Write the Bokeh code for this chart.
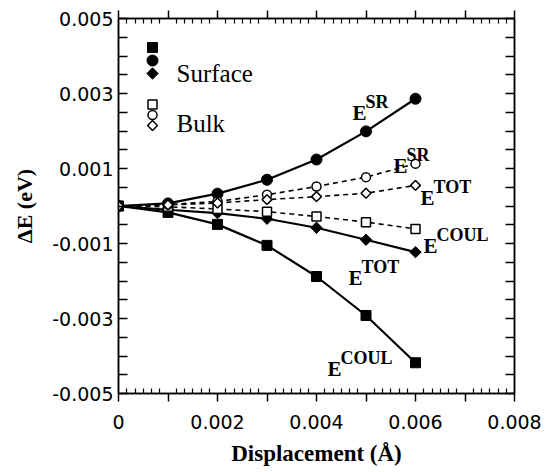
import math
from bokeh.plotting import figure
from bokeh.models import Range1d, LinearAxis, FixedTicker
from bokeh.core.properties import value
from bokeh.embed import file_html
from bokeh.resources import INLINE

# ---------------- data ----------------
disp = [0.0, 0.001, 0.002, 0.003, 0.004, 0.005, 0.006]

surf_coul = [0.0, -0.00017, -0.00049, -0.00105, -0.00188, -0.00292, -0.00418]
surf_sr = [0.0, 0.00007, 0.00033, 0.00070, 0.00124, 0.00199, 0.00286]
surf_tot = [0.0, -0.00010, -0.00019, -0.00034, -0.00058, -0.00090, -0.00123]

bulk_coul = [0.0, -0.00002, -0.00008, -0.00015, -0.00028, -0.00043, -0.00061]
bulk_sr = [0.0, 0.00004, 0.00012, 0.00030, 0.00052, 0.00077, 0.00113]
bulk_tot = [0.0, 0.00003, 0.00008, 0.00017, 0.00025, 0.00034, 0.00055]

x_tick_values = [0.0, 0.001, 0.002, 0.003, 0.004, 0.005, 0.006, 0.007, 0.008]
x_tick_labels = ["0", "", "0.002", "", "0.004", "", "0.006", "", "0.008"]

y_tick_values = [-0.005, -0.003, -0.001, 0.001, 0.003, 0.005]
y_tick_labels = ["-0.005", "-0.003", "-0.001", "0.001", "0.003", "0.005"]

legend_groups = ["Surface", "Bulk"]

# ---------------- figure ----------------
FRAME_W, FRAME_H = 396, 375
p = figure(width=558, height=472, output_backend="svg", toolbar_location=None,
           x_range=Range1d(0, 0.008), y_range=Range1d(-0.005, 0.005),
           min_border_left=118, min_border_right=44, min_border_top=18,
           min_border_bottom=79, x_axis_type=None, y_axis_type=None)
p.grid.visible = False
p.outline_line_color = "black"
p.outline_line_width = 1.5
p.background_fill_color = "white"
p.border_fill_color = "white"

x_minor = [i * 0.001 + j * 0.001 / 6 for i in range(8) for j in range(1, 6)]
y_minor = [-0.005 + k * 0.0005 for k in range(21) if k % 4 != 0]
xticker = FixedTicker(ticks=x_tick_values, minor_ticks=x_minor)
yticker = FixedTicker(ticks=y_tick_values, minor_ticks=y_minor)

TICK_FONT = "DejaVu Sans"
TITLE_FONT = "Liberation Serif"


def hide_labels(ax):
    ax.major_label_text_font_size = "1px"
    ax.major_label_text_color = None
    ax.major_label_standoff = 0


def style_x(ax, labels):
    ax.ticker = xticker
    ax.axis_line_width = 1.5
    ax.axis_line_color = "black"
    ax.major_tick_line_width = 1.5
    ax.major_tick_line_color = "black"
    ax.major_tick_in = 0
    ax.major_tick_out = 8
    ax.minor_tick_line_width = 1.2
    ax.minor_tick_line_color = "black"
    ax.minor_tick_in = 5
    ax.minor_tick_out = 0
    if labels:
        ax.major_label_overrides = dict(zip(x_tick_values, x_tick_labels))
        ax.major_label_text_font = TICK_FONT
        ax.major_label_text_font_size = "19px"
        ax.major_label_text_color = "black"
        ax.major_label_standoff = 13
    else:
        hide_labels(ax)


def style_y(ax, labels):
    ax.ticker = yticker
    ax.axis_line_width = 1.5
    ax.axis_line_color = "black"
    ax.major_tick_line_width = 1.5
    ax.major_tick_line_color = "black"
    ax.major_tick_in = 9
    ax.major_tick_out = 0
    ax.minor_tick_line_width = 1.5
    ax.minor_tick_line_color = "black"
    ax.minor_tick_in = 9
    ax.minor_tick_out = 0
    if labels:
        ax.major_label_overrides = dict(zip(y_tick_values, y_tick_labels))
        ax.major_label_text_font = TICK_FONT
        ax.major_label_text_font_size = "19px"
        ax.major_label_text_color = "black"
        ax.major_label_standoff = 5
    else:
        hide_labels(ax)


xb = LinearAxis(axis_label="Displacement (Å)")
style_x(xb, True)
xb.axis_label_text_font = TITLE_FONT
xb.axis_label_text_font_style = "bold"
xb.axis_label_text_font_size = "23px"
xb.axis_label_text_color = "black"
xb.axis_label_standoff = 9
p.add_layout(xb, "below")

xt = LinearAxis()
style_x(xt, False)
p.add_layout(xt, "above")

yl = LinearAxis(axis_label="ΔE (eV)")
style_y(yl, True)
yl.axis_label_text_font = TITLE_FONT
yl.axis_label_text_font_style = "bold"
yl.axis_label_text_font_size = "22px"
yl.axis_label_text_color = "black"
yl.axis_label_standoff = 12
p.add_layout(yl, "left")

yr = LinearAxis()
style_y(yr, False)
p.add_layout(yr, "right")

# ---------------- series ----------------
SOLID_W = 2.2
DASH_W = 1.6
DASH = "5 4"

p.line(disp, surf_coul, line_color="black", line_width=SOLID_W)
p.line(disp, surf_sr, line_color="black", line_width=SOLID_W)
p.line(disp, surf_tot, line_color="black", line_width=SOLID_W)
p.line(disp, bulk_coul, line_color="black", line_width=DASH_W, line_dash=DASH)
p.line(disp, bulk_sr, line_color="black", line_width=DASH_W, line_dash=DASH)
p.line(disp, bulk_tot, line_color="black", line_width=DASH_W, line_dash=DASH)

p.scatter(disp, surf_coul, marker="square", size=10, fill_color="black", line_color="black")
p.scatter(disp, surf_sr, marker="circle", size=11, fill_color="black", line_color="black")
p.scatter(disp, surf_tot, marker="square", angle=math.pi / 4, size=8,
          fill_color="black", line_color="black")

p.scatter(disp, bulk_coul, marker="square", size=9, fill_color="white",
          line_color="black", line_width=1.5)
p.scatter(disp, bulk_sr, marker="circle", size=9, fill_color="white",
          line_color="black", line_width=1.5)
p.scatter(disp, bulk_tot, marker="square", angle=math.pi / 4, size=7,
          fill_color="white", line_color="black", line_width=1.5)

# ---------------- E labels, anchored at each series' last point ----------------
ANN_FONT = value("Liberation Serif")


def elabel(xv, yv, sup, dx, dy):
    p.text(x=[xv], y=[yv], text=["E"], x_offset=dx, y_offset=dy,
           text_align="left", text_baseline="alphabetic", text_font=ANN_FONT,
           text_font_style="bold", text_font_size="21px", text_color="black")
    p.text(x=[xv], y=[yv], text=[sup], x_offset=dx + 13, y_offset=dy - 11,
           text_align="left", text_baseline="alphabetic", text_font=ANN_FONT,
           text_font_style="bold", text_font_size="18px", text_color="black")


elabel(disp[-1], surf_sr[-1], "SR", -63, 14)
elabel(disp[-1], bulk_sr[-1], "SR", -22, 2)
elabel(disp[-1], bulk_tot[-1], "TOT", 5, 13)
elabel(disp[-1], bulk_coul[-1], "COUL", 8, 17)
elabel(disp[-1], surf_tot[-1], "TOT", -67, 26)
elabel(disp[-1], surf_coul[-1], "COUL", -88, 6)

# ---------------- legend (frame-pixel layout space) ----------------
p.extra_x_ranges = {"px": Range1d(0, FRAME_W)}
p.extra_y_ranges = {"py": Range1d(FRAME_H, 0)}
LX = 34
p.scatter([LX], [29], marker="square", size=10, fill_color="black", line_color="black",
          x_range_name="px", y_range_name="py")
p.scatter([LX], [42], marker="circle", size=11, fill_color="black", line_color="black",
          x_range_name="px", y_range_name="py")
p.scatter([LX], [55], marker="square", angle=math.pi / 4, size=8, fill_color="black",
          line_color="black", x_range_name="px", y_range_name="py")
p.scatter([LX], [86], marker="square", size=9, fill_color="white", line_color="black",
          line_width=1.5, x_range_name="px", y_range_name="py")
p.scatter([LX], [96.5], marker="circle", size=9, fill_color="white", line_color="black",
          line_width=1.5, x_range_name="px", y_range_name="py")
p.scatter([LX], [107], marker="square", angle=math.pi / 4, size=7, fill_color="white",
          line_color="black", line_width=1.5, x_range_name="px", y_range_name="py")
p.text(x=[58, 58], y=[55, 105], text=legend_groups, text_align="left",
       text_baseline="alphabetic", text_font=value("Liberation Serif"),
       text_font_size="25px", text_color="black",
       x_range_name="px", y_range_name="py")

open("out.html", "w").write(file_html(p, INLINE))
